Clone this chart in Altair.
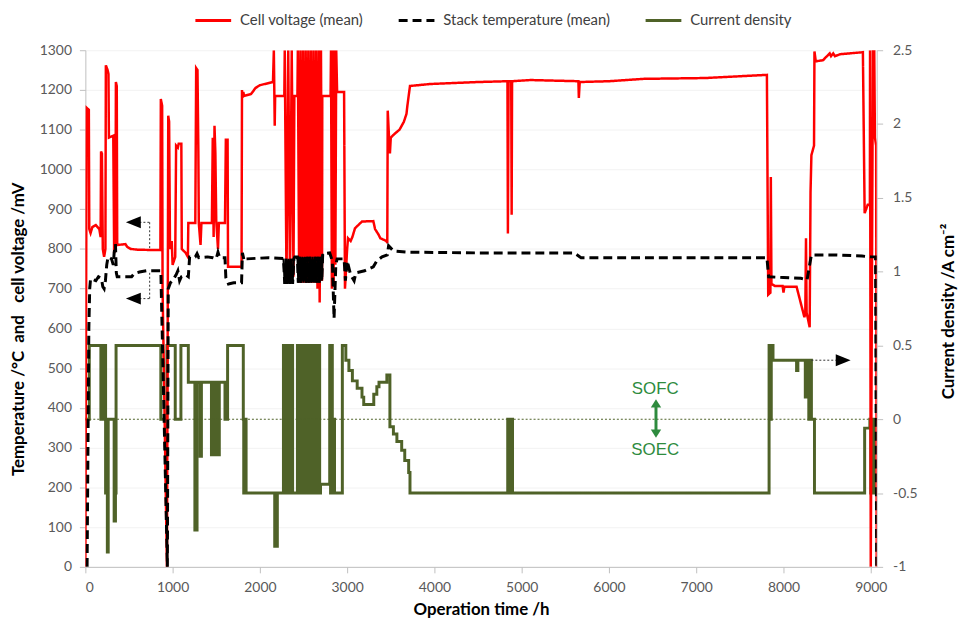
import altair as alt
import pandas as pd

# ---------------- data ----------------
series_names = ["Cell voltage (mean)", "Stack temperature (mean)", "Current density"]
series_colors = ["#ff0000", "#000000", "#4f6228"]
series_dashes = [[1, 0], [9, 5], [1, 0]]

x_ticks = [0, 1000, 2000, 3000, 4000, 5000, 6000, 7000, 8000, 9000]
left_ticks = [0, 100, 200, 300, 400, 500, 600, 700, 800, 900, 1000, 1100, 1200, 1300]
right_ticks = [-1, -0.5, 0, 0.5, 1, 1.5, 2, 2.5]

# Cell voltage (mean) /mV
volt_h = [0, 15, 40, 45, 60, 80, 120, 160, 175, 180, 190, 200, 215, 230, 235, 255, 265, 270, 320, 330,
          345, 350, 360, 365, 460, 480, 520, 600, 860, 865, 880, 885, 935, 945, 950, 960, 970, 990, 1000, 1030,
          1040, 1060, 1070, 1100, 1105, 1150, 1175, 1180, 1260, 1270, 1285, 1295, 1300, 1320, 1330, 1450, 1460, 1470, 1480, 1490,
          1500, 1520, 1530, 1600, 1610, 1630, 1635, 1790, 1795, 1800, 1810, 1820, 1900, 1950, 2000, 2150, 2160, 2170, 2175, 2280,
          2285, 2305, 2325, 2345, 2365, 2385, 2395, 2430, 2435, 2450, 2465, 2480, 2495, 2510, 2525, 2540, 2555, 2570, 2585, 2600,
          2615, 2630, 2645, 2660, 2675, 2685, 2700, 2712, 2715, 2810, 2815, 2825, 2835, 2845, 2855, 2865, 2875, 2885, 2965, 2975,
          2990, 3000, 3010, 3040, 3060, 3090, 3170, 3300, 3320, 3360, 3380, 3450, 3460, 3465, 3480, 3490, 3500, 3545, 3600, 3650,
          3680, 3690, 3720, 3950, 4500, 4837, 4842, 4850, 4880, 4885, 4890, 5100, 5650, 5655, 5665, 6000, 6400, 7100, 7810, 7825,
          7850, 7855, 7862, 7900, 7990, 8000, 8010, 8150, 8240, 8250, 8258, 8265, 8300, 8310, 8320, 8350, 8355, 8370, 8455, 8475,
          8530, 8545, 8570, 8590, 8650, 8910, 8930, 8965, 8990, 8992, 9000, 9025, 9040, 9048, 9062, 9068]
volt_mv = [0, 1155, 1150, 850, 840, 855, 860, 850, 830, 1045, 1040, 800, 780, 800, 1262, 1250, 1240, 1080, 1085, 790,
           800, 1220, 1210, 810, 812, 805, 800, 798, 797, 1177, 1160, 700, 0, 700, 1135, 1120, 800, 820, 760, 780,
           1060, 1055, 1065, 1065, 800, 790, 780, 865, 865, 1255, 1250, 1045, 865, 810, 865, 865, 1080, 830, 1110, 1040,
           870, 800, 865, 865, 1075, 1075, 755, 755, 1200, 1180, 1195, 1185, 1190, 1205, 1212, 1220, 1300, 1110, 1185, 1185,
           1300, 720, 1300, 720, 1300, 730, 1185, 1185, 1300, 715, 1300, 715, 1300, 715, 1300, 715, 1300, 715, 1300, 715,
           1300, 715, 1300, 700, 1300, 665, 1300, 720, 1185, 1185, 1300, 700, 1300, 705, 1300, 760, 1300, 1195, 1195, 700,
           760, 800, 827, 820, 830, 852, 869, 870, 850, 836, 827, 820, 815, 1148, 1080, 1040, 1080, 1090, 1100, 1120,
           1140, 1160, 1210, 1215, 1220, 1222, 839, 1222, 1222, 886, 1222, 1225, 1222, 1180, 1220, 1222, 1228, 1230, 1238, 685,
           690, 981, 712, 707, 707, 690, 705, 705, 628, 640, 827, 640, 603, 943, 1036, 1060, 1297, 1272, 1275, 1280,
           1292, 1285, 1292, 1285, 1290, 1295, 890, 911, 911, 1300, 0, 1300, 1300, 1080, 1060, 0]

# Stack temperature (mean) /degC
temp_h = [20, 40, 50, 60, 120, 150, 185, 200, 215, 230, 245, 260, 300, 320, 330, 345, 355, 365, 530, 560,
          620, 700, 865, 940, 950, 975, 1000, 1040, 1060, 1080, 1100, 1150, 1180, 1195, 1260, 1280, 1300, 1400, 1460, 1500,
          1520, 1540, 1600, 1610, 1640, 1700, 1790, 1800, 1820, 1845, 2100, 2270, 2285, 2300, 2315, 2330, 2345, 2360, 2375, 2390,
          2400, 2430, 2440, 2455, 2470, 2485, 2500, 2515, 2530, 2545, 2560, 2575, 2590, 2605, 2620, 2635, 2650, 2665, 2680, 2695,
          2710, 2720, 2800, 2830, 2850, 2870, 2885, 2965, 2980, 3000, 3040, 3080, 3100, 3200, 3300, 3340, 3400, 3460, 3475, 3530,
          3700, 4500, 5600, 5680, 7810, 7830, 8000, 8200, 8270, 8300, 8320, 8600, 8900, 9000, 9055, 9068]
temp_c = [0, 600, 700, 725, 720, 730, 725, 705, 700, 720, 760, 780, 775, 760, 790, 812, 740, 730, 730, 738,
          742, 745, 745, 0, 700, 715, 720, 735, 745, 720, 730, 735, 730, 780, 780, 788, 778, 780, 778, 775,
          792, 778, 778, 728, 712, 715, 715, 790, 770, 775, 778, 776, 712, 775, 712, 775, 712, 775, 712, 775,
          780, 780, 715, 780, 715, 780, 715, 780, 715, 780, 715, 780, 715, 780, 715, 780, 715, 780, 715, 780,
          720, 788, 790, 770, 625, 760, 775, 775, 720, 770, 735, 720, 740, 745, 755, 770, 780, 785, 808, 795,
          792, 790, 790, 778, 778, 730, 728, 726, 722, 760, 785, 785, 782, 780, 780, 0]

# Current density /A cm-2 (step values, each held until the next time)
cd_h = [0, 45, 178, 212, 232, 252, 262, 330, 345, 352, 865, 935, 1030, 1095, 1180, 1255, 1280, 1315, 1330, 1445,
        1455, 1465, 1475, 1485, 1495, 1505, 1515, 1525, 1535, 1600, 1630, 1810, 1815, 1822, 1830, 1836, 1842, 2170, 2200, 2270,
        2285, 2300, 2315, 2330, 2345, 2360, 2375, 2430, 2445, 2460, 2475, 2490, 2505, 2520, 2535, 2550, 2565, 2580, 2595, 2610,
        2625, 2640, 2655, 2670, 2685, 2695, 2800, 2810, 2820, 2830, 2840, 2848, 2855, 2945, 2985, 3020, 3060, 3115, 3170, 3190,
        3305, 3340, 3365, 3455, 3490, 3530, 3570, 3625, 3660, 3705, 3720, 4840, 4860, 4875, 4895, 7835, 7850, 7860, 7880, 8150,
        8165, 8250, 8262, 8290, 8300, 8320, 8355, 8930, 8990, 9000, 9010, 9025, 9040, 9068]
cd_a = [0, 0.5, 0, 0.5, -0.5, -0.9, 0, -0.69, -0.5, 0.5, 0, 0.5, 0, 0.5, 0.25, -0.75, 0.25, -0.25, 0.25, -0.24,
        0.25, -0.24, 0.25, -0.24, 0.25, -0.24, 0.25, -0.24, 0.25, 0, 0.5, 0, -0.5, 0, -0.5, 0, -0.5, -0.86, -0.5, 0.5,
        -0.5, 0.5, -0.5, 0.5, -0.5, 0.5, -0.5, 0.5, -0.5, 0.5, -0.5, 0.5, -0.5, 0.5, -0.5, 0.5, -0.5, 0.5, -0.5, 0.5,
        -0.5, 0.5, -0.5, 0.5, -0.5, -0.44, 0.5, -0.5, 0.5, 0, -0.5, 0, -0.5, 0.5, 0.4, 0.33, 0.26, 0.21, 0.15, 0.1,
        0.17, 0.22, 0.25, 0.3, -0.05, -0.1, -0.15, -0.21, -0.28, -0.36, -0.5, 0, -0.5, 0, -0.5, 0.5, 0, 0.5, 0.4, 0.33,
        0.4, 0.15, 0.4, 0, 0.4, 0, -0.5, -0.06, 0, -0.5, 0, -0.5, 0, 0]

# annotation positions (data coordinates)
left_arrow_h = [550, 550]
left_arrow_mv = [867, 675]
left_bracket_h = [620, 737, 620, 737]
left_bracket_h2 = [737, 737, 737, 737]
left_bracket_mv = [867, 867, 675, 675]
left_bracket_mv2 = [867, 800, 675, 745]
right_arrow_h = [8320, 8684]
right_arrow_a = [0.4, 0.4]
mode_labels = ["SOFC", "SOEC"]
mode_label_h = [6530, 6530]
mode_label_a = [0.206, -0.21]
mode_arrow_h = [6539]
mode_arrow_top = [0.1]
mode_arrow_bottom = [-0.09]

# ---------------- tables ----------------
df_v = pd.DataFrame({"h": volt_h, "val": volt_mv})
df_v["series"] = series_names[0]
df_v["i"] = range(len(df_v))
df_t = pd.DataFrame({"h": temp_h, "val": temp_c})
df_t["series"] = series_names[1]
df_t["i"] = range(len(df_t))
df_c = pd.DataFrame({"h": cd_h, "val": cd_a})
df_c["series"] = series_names[2]
df_c["i"] = range(len(df_c))

df_la = pd.DataFrame({"h": left_arrow_h, "val": left_arrow_mv})
df_lb = pd.DataFrame({"h": left_bracket_h, "h2": left_bracket_h2, "val": left_bracket_mv, "val2": left_bracket_mv2})
df_zero = pd.DataFrame({"h": [0], "h2": [9068], "val": [0]})
df_ra_line = pd.DataFrame({"h": [right_arrow_h[0]], "h2": [8600], "val": [right_arrow_a[0]]})
df_ra_head = pd.DataFrame({"h": [right_arrow_h[1]], "val": [right_arrow_a[1]]})
df_txt = pd.DataFrame({"h": mode_label_h, "val": mode_label_a, "label": mode_labels})
df_ma = pd.DataFrame({"h": mode_arrow_h, "val": mode_arrow_top, "val2": mode_arrow_bottom})
df_ma_up = pd.DataFrame({"h": mode_arrow_h, "val": mode_arrow_top})
df_ma_dn = pd.DataFrame({"h": mode_arrow_h, "val": mode_arrow_bottom})

# ---------------- scales / encodings ----------------
FONT = "Lato"
AX = dict(labelFont=FONT, labelFontSize=14, labelColor="#595959", domainColor="#bfbfbf",
          tickColor="#bfbfbf", tickSize=6, titleFont=FONT, titleColor="#000000", titleFontWeight="bold")

x_scale = alt.Scale(domain=[0, 9068], nice=False, zero=False)
x_ax = alt.Axis(values=x_ticks, labelExpr="datum.value + ''", title="Operation time /h", titleFontSize=17,
                titleBaseline="alphabetic", titleY=48, labelPadding=8, grid=False, **AX)
x_enc = alt.X("h:Q", scale=x_scale, axis=x_ax)

yl_scale = alt.Scale(domain=[0, 1300], nice=False, zero=False)
yl_ax = alt.Axis(orient="left", values=left_ticks, labelExpr="datum.value + ''",
                 title="Temperature /\u00b0C\u00a0 and\u00a0\u00a0 cell voltage /mV", titleFontSize=17,
                 titleAngle=270, titleBaseline="middle", titleAlign="center", titleX=-67, titleY=281,
                 labelPadding=8, grid=True, gridColor="#f2f2f2", **AX)
yl_enc = alt.Y("val:Q", scale=yl_scale, axis=yl_ax)

yr_scale = alt.Scale(domain=[-1, 2.5], nice=False, zero=False)
yr_ax = alt.Axis(orient="right", values=right_ticks, labelExpr="datum.value + ''",
                 title="Current density /A cm\u207b\u00b2", titleFontSize=17,
                 titleAngle=270, titleBaseline="middle", titleAlign="center", titleX=72, titleY=263,
                 labelPadding=10, grid=False, **AX)
yr_enc = alt.Y("val:Q", scale=yr_scale, axis=yr_ax)

legend = alt.Legend(title=None, orient="none", legendX=109, legendY=-50, direction="horizontal",
                    columns=3, symbolType="stroke", symbolSize=1300, symbolStrokeWidth=3,
                    labelFont=FONT, labelFontSize=15, labelColor="#404040", columnPadding=28,
                    labelOffset=7, labelLimit=400)
color_enc = alt.Color("series:N", scale=alt.Scale(domain=series_names, range=series_colors), legend=legend)
dash_enc = alt.StrokeDash("series:N", scale=alt.Scale(domain=series_names, range=series_dashes), legend=legend)

# ---------------- right-axis group (current density) ----------------
cd_line = alt.Chart(df_c).mark_line(strokeWidth=3, interpolate="step-after", clip=True).encode(
    x=x_enc, y=yr_enc, color=color_enc, strokeDash=dash_enc, order="i:Q")
zero_line = alt.Chart(df_zero).mark_rule(color="#4f6228", strokeWidth=1, strokeDash=[2, 2]).encode(
    x=x_enc, x2="h2:Q", y=yr_enc)
ra_line = alt.Chart(df_ra_line).mark_rule(color="#333333", strokeWidth=1, strokeDash=[2, 2]).encode(
    x=x_enc, x2="h2:Q", y=yr_enc)
ra_head = alt.Chart(df_ra_head).mark_point(shape="M1,0L-1,-0.8L-1,0.8Z", filled=True, size=225,
                                           color="#000000", opacity=1).encode(x=x_enc, y=yr_enc)
mode_txt = alt.Chart(df_txt).mark_text(font="Liberation Sans", fontSize=17, color="#2e8b3e",
                                       baseline="middle", align="center").encode(
    x=x_enc, y=yr_enc, text="label:N")
mode_shaft = alt.Chart(df_ma).mark_rule(color="#2e8b3e", strokeWidth=3).encode(x=x_enc, y=yr_enc, y2="val2:Q")
mode_up = alt.Chart(df_ma_up).mark_point(shape="M0,-1L-1,0.6L1,0.6Z", filled=True, size=110,
                                         color="#2e8b3e", opacity=1).encode(x=x_enc, y=yr_enc)
mode_dn = alt.Chart(df_ma_dn).mark_point(shape="M0,1L-1,-0.6L1,-0.6Z", filled=True, size=110,
                                         color="#2e8b3e", opacity=1).encode(x=x_enc, y=yr_enc)
right_group = alt.layer(cd_line, zero_line, ra_line, ra_head, mode_txt, mode_shaft, mode_up, mode_dn)

# ---------------- left-axis group (voltage / temperature) ----------------
volt_line = alt.Chart(df_v).mark_line(strokeWidth=2.5, clip=True).encode(
    x=x_enc, y=yl_enc, color=color_enc, strokeDash=dash_enc, order="i:Q")
temp_line = alt.Chart(df_t).mark_line(strokeWidth=3, clip=True).encode(
    x=x_enc, y=yl_enc, color=color_enc, strokeDash=dash_enc, order="i:Q")
temp_dense = alt.Chart(df_t).transform_filter("datum.h >= 2270 && datum.h <= 2720").mark_line(
    strokeWidth=2, color="#000000").encode(x=x_enc, y=yl_enc, order="i:Q")
lb_lines = alt.Chart(df_lb).mark_rule(color="#333333", strokeWidth=1, strokeDash=[2, 2]).encode(
    x=x_enc, x2="h2:Q", y=yl_enc, y2="val2:Q")
la_heads = alt.Chart(df_la).mark_point(shape="M-1,0L1,-0.8L1,0.8Z", filled=True, size=225,
                                       color="#000000", opacity=1).encode(x=x_enc, y=yl_enc)
left_group = alt.layer(volt_line, temp_line, temp_dense, lb_lines, la_heads)

chart = alt.layer(right_group, left_group).resolve_scale(y="independent").properties(
    width=798, height=521,
    autosize=alt.AutoSizeParams(type="none"),
    padding={"left": 78, "top": 40, "right": 82, "bottom": 52},
    background="white",
).configure_view(stroke=None)

chart.save("out.html", embed_options={"renderer": "svg", "actions": False})
